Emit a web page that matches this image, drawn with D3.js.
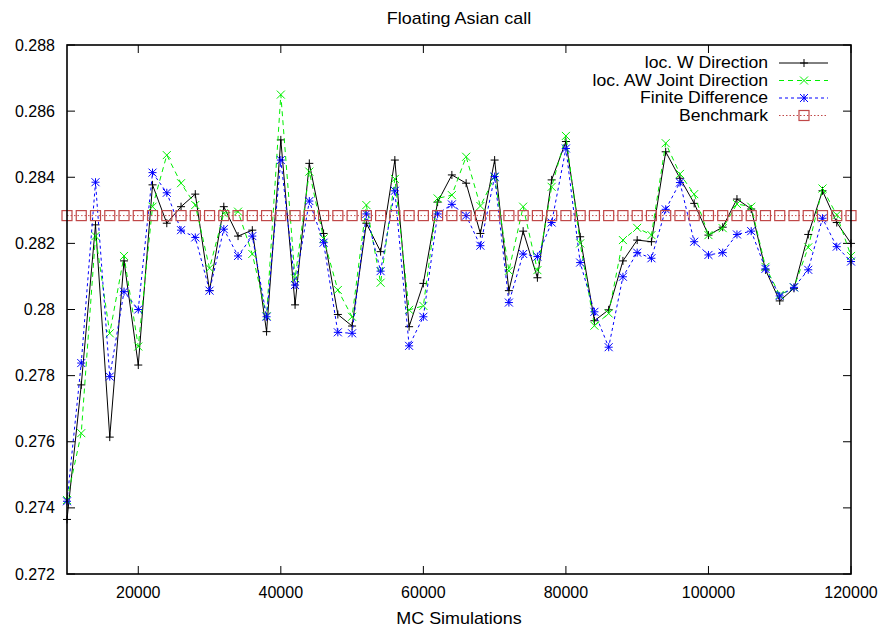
<!DOCTYPE html>
<html>
<head>
<meta charset="utf-8">
<script src="https://cdn.jsdelivr.net/npm/d3@7"></script>
<style>
  body { margin: 0; background: #fff; }
  svg { display: block; }
  text { font-family: "Liberation Sans", Arial, sans-serif; fill: #000; }
</style>
</head>
<body>
<svg id="chart" width="885" height="627"></svg>
<script>
// chart values
var simulations = [10000, 12000, 14000, 16000, 18000, 20000, 22000, 24000, 26000, 28000,
  30000, 32000, 34000, 36000, 38000, 40000, 42000, 44000, 46000, 48000,
  50000, 52000, 54000, 56000, 58000, 60000, 62000, 64000, 66000, 68000,
  70000, 72000, 74000, 76000, 78000, 80000, 82000, 84000, 86000, 88000,
  90000, 92000, 94000, 96000, 98000, 100000, 102000, 104000, 106000, 108000,
  110000, 112000, 114000, 116000, 118000, 120000];

var wDirection = [0.27365, 0.27772, 0.28256, 0.27614, 0.28147, 0.27832, 0.28377, 0.28261, 0.28311, 0.28349,
  0.28057, 0.28311, 0.28222, 0.28240, 0.27933, 0.28513, 0.28014, 0.28442, 0.28230, 0.27985,
  0.27950, 0.28261, 0.28175, 0.28452, 0.27948, 0.28079, 0.28325, 0.28407, 0.28382, 0.28230,
  0.28452, 0.28057, 0.28237, 0.28096, 0.28392, 0.28508, 0.28220, 0.27966, 0.27999, 0.28147,
  0.28210, 0.28205, 0.28477, 0.28397, 0.28321, 0.28225, 0.28249, 0.28334, 0.28304, 0.28120,
  0.28026, 0.28064, 0.28227, 0.28359, 0.28263, 0.28200];

var awJointDirection = [0.27424, 0.27626, 0.28222, 0.27928, 0.28162, 0.27888, 0.28311, 0.28467, 0.28382, 0.28316,
  0.28125, 0.28291, 0.28296, 0.28168, 0.27980, 0.28650, 0.28094, 0.28417, 0.28215, 0.28059,
  0.27978, 0.28316, 0.28081, 0.28395, 0.27999, 0.28011, 0.28336, 0.28346, 0.28462, 0.28313,
  0.28400, 0.28117, 0.28311, 0.28119, 0.28371, 0.28525, 0.28200, 0.27951, 0.27988, 0.28210,
  0.28247, 0.28225, 0.28503, 0.28410, 0.28349, 0.28225, 0.28246, 0.28319, 0.28311, 0.28129,
  0.28044, 0.28067, 0.28188, 0.28366, 0.28286, 0.28162];

var finiteDifference = [0.27420, 0.27838, 0.28385, 0.27797, 0.28054, 0.28000, 0.28414, 0.28353, 0.28240, 0.28218,
  0.28057, 0.28243, 0.28162, 0.28222, 0.27978, 0.28452, 0.28074, 0.28328, 0.28202, 0.27931,
  0.27928, 0.28289, 0.28116, 0.28359, 0.27890, 0.27978, 0.28289, 0.28318, 0.28284, 0.28193,
  0.28402, 0.28021, 0.28168, 0.28160, 0.28263, 0.28487, 0.28142, 0.27993, 0.27886, 0.28099,
  0.28172, 0.28155, 0.28303, 0.28384, 0.28205, 0.28165, 0.28172, 0.28227, 0.28237, 0.28123,
  0.28041, 0.28067, 0.28120, 0.28276, 0.28190, 0.28145];

var benchmark = 0.28284;

var xTicks = [20000, 40000, 60000, 80000, 100000, 120000];
var yTicks = [0.272, 0.274, 0.276, 0.278, 0.28, 0.282, 0.284, 0.286, 0.288];

var svg = d3.select("#chart");
var margin = { top: 45, right: 34, bottom: 53, left: 67 };
var width = 885;
var height = 627;
var innerW = width - margin.left - margin.right;
var innerH = height - margin.top - margin.bottom;

var x = d3.scaleLinear().domain([10000, 120000]).range([margin.left, margin.left + innerW]);
var y = d3.scaleLinear().domain([0.272, 0.288]).range([margin.top + innerH, margin.top]);

// gnuplot's font is wider than it is tall, so stretch the text a bit
addLabel = (tx, ty, str, anchor, size, stretch) => {
  svg.append("g")
    .attr("transform", `translate(${tx}, ${ty}) scale(${stretch}, 1)`)
    .append("text")
    .attr("dy", "0.35em")
    .attr("text-anchor", anchor)
    .style("font-size", size + "px")
    .text(str);
};

// title + axis label
addLabel(margin.left + innerW / 2, 18, "Floating Asian call", "middle", 16, 1.12);
addLabel(margin.left + innerW / 2, 618, "MC Simulations", "middle", 16, 1.12);

// ticks (inward, mirrored like gnuplot)
var tickLen = 8;
var ticks = svg.append("g").attr("stroke", "#000").attr("stroke-width", 1);
xTicks.forEach(function (t) {
  ticks.append("line").attr("x1", x(t)).attr("x2", x(t))
    .attr("y1", y(0.272)).attr("y2", y(0.272) - tickLen);
  ticks.append("line").attr("x1", x(t)).attr("x2", x(t))
    .attr("y1", y(0.288)).attr("y2", y(0.288) + tickLen);
  addLabel(x(t), 592, t, "middle", 16, 1);
});
yTicks.forEach(function (t) {
  ticks.append("line").attr("x1", x(10000)).attr("x2", x(10000) + tickLen)
    .attr("y1", y(t)).attr("y2", y(t));
  ticks.append("line").attr("x1", x(120000)).attr("x2", x(120000) - tickLen)
    .attr("y1", y(t)).attr("y2", y(t));
  addLabel(55, y(t), +t.toFixed(3), "end", 16, 1);
});

// markers
function drawMarker(g, kind, cx, cy, color) {
  var s = 4;
  if (kind == "plus" || kind == "star") {
    g.append("line").attr("x1", cx - s).attr("x2", cx + s).attr("y1", cy).attr("y2", cy).attr("stroke", color);
    g.append("line").attr("x1", cx).attr("x2", cx).attr("y1", cy - s).attr("y2", cy + s).attr("stroke", color);
  }
  if (kind == "cross" || kind == "star") {
    g.append("line").attr("x1", cx - s).attr("x2", cx + s).attr("y1", cy - s).attr("y2", cy + s).attr("stroke", color);
    g.append("line").attr("x1", cx - s).attr("x2", cx + s).attr("y1", cy + s).attr("y2", cy - s).attr("stroke", color);
  }
  if (kind == "box") {
    g.append("rect").attr("x", cx - 5).attr("y", cy - 5).attr("width", 10).attr("height", 10)
      .attr("fill", "none").attr("stroke", color).attr("stroke-width", 1.2);
  }
}

var series = [
  { name: "loc. W Direction", values: wDirection, color: "#000000", dash: null, marker: "plus" },
  { name: "loc. AW Joint Direction", values: awJointDirection, color: "#00f000", dash: "5,4", marker: "cross" },
  { name: "Finite Difference", values: finiteDifference, color: "#0000ff", dash: "3,3", marker: "star" },
  { name: "Benchmark", values: simulations.map(function () { return benchmark; }), color: "#c04848", dash: "1.5,2", marker: "box" },
];

var line = d3.line()
  .x(function (d) { return x(d[0]); })
  .y(function (d) { return y(d[1]); });

series.forEach(function (s) {
  var pts = simulations.map(function (sim, i) { return [sim, s.values[i]]; });
  var g = svg.append("g").attr("class", "series");
  g.append("path")
    .datum(pts)
    .attr("d", line)
    .attr("fill", "none")
    .attr("stroke", s.color)
    .attr("stroke-width", 1)
    .attr("stroke-dasharray", s.dash);
  pts.forEach(function (p) {
    drawMarker(g, s.marker, x(p[0]), y(p[1]), s.color);
  });
});

// legend
var legend = svg.append("g");
series.forEach(function (s, i) {
  var ly = 63 + i * 17.5;
  addLabel(768, ly, s.name, "end", 15.6, 1.13);
  legend.append("line").attr("x1", 779).attr("x2", 828).attr("y1", ly).attr("y2", ly)
    .attr("stroke", s.color).attr("stroke-dasharray", s.dash);
  drawMarker(legend, s.marker, 804, ly, s.color);
});

// frame
svg.append("rect")
  .attr("x", margin.left).attr("y", margin.top)
  .attr("width", innerW).attr("height", innerH)
  .attr("fill", "none").attr("stroke", "#000").attr("stroke-width", 1.6);
</script>
</body>
</html>
